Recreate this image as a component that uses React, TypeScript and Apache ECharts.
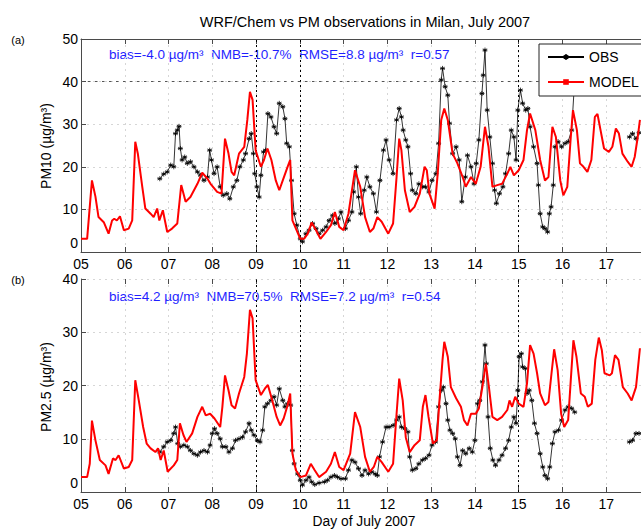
import React, { useEffect, useRef } from "react";
import * as echarts from "echarts";

// ---------- data ----------
const DAY_LABELS = ["05", "06", "07", "08", "09", "10", "11", "12", "13", "14", "15", "16", "17"];
const EVENT_DAYS = [9, 10, 15];

const PM10_MODEL_DAYS = [
  5.0, 5.14, 5.25, 5.33, 5.4, 5.52, 5.63, 5.71, 5.76, 5.82, 5.89, 5.98, 6.09, 6.17, 6.24, 6.3, 6.4, 6.47, 6.59, 6.66,
  6.74, 6.79, 6.87, 6.97, 7.08, 7.2, 7.29, 7.39, 7.5, 7.66, 7.77, 7.89, 7.96, 8.11, 8.21, 8.29, 8.37, 8.44, 8.5, 8.61,
  8.73, 8.8, 8.86, 8.92, 8.99, 9.11, 9.18, 9.26, 9.35, 9.45, 9.53, 9.61, 9.72, 9.78, 9.83, 9.91, 10.01, 10.1, 10.18,
  10.27, 10.37, 10.47, 10.6, 10.71, 10.8, 10.9, 11.0, 11.11, 11.26, 11.38, 11.49, 11.6, 11.68, 11.77, 11.87, 12.02,
  12.13, 12.21, 12.27, 12.32, 12.4, 12.51, 12.62, 12.74, 12.85, 12.9, 12.96, 13.08, 13.15, 13.23, 13.3, 13.38, 13.49,
  13.6, 13.72, 13.79, 13.91, 14.02, 14.13, 14.23, 14.31, 14.4, 14.51, 14.62, 14.74, 14.81, 14.89, 15.0, 15.11, 15.19,
  15.26, 15.38, 15.49, 15.6, 15.68, 15.77, 15.85, 15.95, 16.02, 16.11, 16.19, 16.24, 16.33, 16.4, 16.48, 16.57, 16.66,
  16.74, 16.8, 16.87, 16.95, 17.06, 17.14, 17.22, 17.29, 17.37, 17.49, 17.58, 17.65, 17.72, 17.77,
];
const PM10_MODEL = [
  3.1, 3.1, 16.8, 13, 8.2, 7, 4.3, 7.4, 7.8, 7.4, 8.4, 5.1, 5.5, 7.4, 25.9, 23, 15.3, 10.2, 9, 8.2,
  10.2, 7.4, 9.8, 4.7, 5.5, 6.7, 15.7, 11.8, 12.9, 16, 18.6, 17.2, 16, 14.1, 13.7, 26.6, 23.1, 18.8, 18, 23.1,
  24.7, 31, 37.6, 35.7, 23.9, 20, 21.6, 24.3, 21.6, 16.8, 14.5, 16.8, 20, 21.6, 7.4, 5.5, 3.1, 3.1, 4.3,
  6.9, 5.1, 3.1, 4.7, 6.3, 9.4, 5.9, 5.1, 9, 19.2, 15.3, 8.2, 4.7, 5.5, 8.2, 7.1, 4.3,
  6.7, 17.6, 26.6, 23.9, 14.5, 9.4, 10.6, 13.7, 20, 19.2, 13.7, 10.2, 18.4, 31, 33.7, 31, 23.1,
  20.8, 17.6, 15.3, 17.6, 16, 20, 29.4, 24.7, 15.3, 15.7, 16, 18.4, 20, 18, 19.2, 21.6, 28.6,
  32.5, 28.6, 21.6, 16.8, 17.6, 29.4, 27, 16.8, 13.3, 15.3, 27, 33.3, 28.6, 20.8, 20, 18.8, 21.6,
  31.7, 32.4, 28.6, 24.3, 23.5, 24.7, 29, 27.8, 23.1, 21.2, 20, 22.3, 27, 31,
];

const PM10_OBS_DAYS = [
  6.8, 6.89, 6.97, 7.05, 7.12, 7.16, 7.2, 7.24, 7.27, 7.31, 7.37, 7.43, 7.5, 7.58, 7.66, 7.73, 7.81, 7.89, 7.94, 7.98,
  8.04, 8.11, 8.18, 8.25, 8.33, 8.4, 8.48, 8.56, 8.63, 8.71, 8.76, 8.84, 8.89, 8.94, 8.97, 9.02, 9.07, 9.11, 9.17, 9.22,
  9.27, 9.34, 9.41, 9.47, 9.53, 9.61, 9.66, 9.7, 9.76, 9.81, 9.87, 9.93, 10.01, 10.06, 10.14, 10.21, 10.29, 10.37,
  10.44, 10.52, 10.6, 10.67, 10.75, 10.8, 10.88, 10.94, 11.04, 11.11, 11.19, 11.23, 11.29, 11.34, 11.39, 11.47, 11.53,
  11.6, 11.68, 11.75, 11.83, 11.91, 11.97, 12.04, 12.13, 12.21, 12.27, 12.32, 12.36, 12.42, 12.47, 12.53, 12.57, 12.65,
  12.72, 12.8, 12.87, 12.95, 13.02, 13.11, 13.17, 13.23, 13.26, 13.32, 13.38, 13.42, 13.49, 13.57, 13.64, 13.7, 13.78,
  13.83, 13.91, 13.98, 14.03, 14.09, 14.16, 14.19, 14.23, 14.28, 14.34, 14.4, 14.45, 14.49, 14.56, 14.64, 14.7, 14.77,
  14.83, 14.89, 14.94, 14.98, 15.04, 15.09, 15.16, 15.21, 15.26, 15.34, 15.42, 15.45, 15.49, 15.55, 15.6, 15.66, 15.7,
  15.74, 15.79, 15.83, 15.9, 15.98, 16.06, 16.13, 16.21, 16.27, 16.3, 17.53, 17.6, 17.68, 17.75,
];
const PM10_OBS = [
  17.2, 18.3, 18.8, 20.4, 20, 27.8, 28.6, 29.5, 24.3, 21.6, 22.3, 20.8, 21.2, 20, 18.8, 18, 16.8, 17.6, 23.9, 21.6,
  18.4, 20, 15.3, 13.3, 13.7, 12.5, 15.3, 16.8, 20, 21.6, 23.1, 26.6, 27.8, 23.1, 18.4, 15.3, 12.9, 18, 23.5, 23.9,
  32.5, 31.7, 29.4, 27.8, 34.9, 34.1, 31.3, 25.5, 24.7, 16.8, 9, 6.3, 3.1, 2.4, 4.3, 5.1, 6.7, 5.5,
  4.3, 5.1, 5.9, 7.4, 8.6, 6.7, 7.8, 9.4, 5.5, 7.4, 9.4, 14.1, 20, 12.9, 9, 14.5, 17.6,
  15.3, 13.7, 9.4, 16.8, 23.9, 26.3, 21.6, 18.4, 31, 33.7, 31.7, 28.6, 26.3, 24.7, 18.4, 14.5, 13.7,
  16, 15.3, 15.3, 14.1, 16.8, 18.4, 25.5, 40.4, 43.1, 38.8, 36.8, 30.2, 23.1, 24.7, 21.6, 11.8, 17.6,
  22.7, 20, 16, 20.8, 26.3, 37.2, 41.5, 47.4, 33.3, 27, 20.8, 14.5, 11.4, 13.7, 15.3, 18.4, 23.1,
  28.6, 27, 21.6, 33.3, 38, 34.9, 33.3, 33.7, 29.4, 24.7, 20.8, 15.7, 9, 5.9, 5.5, 4.7, 9,
  10.6, 15.7, 24.7, 25.9, 24.7, 25.5, 25.9, 28.6, 38.8, null, 27, 27.8, 26.6, 28,
];

const PM25_MODEL_DAYS = [
  5.0, 5.14, 5.2, 5.25, 5.33, 5.43, 5.56, 5.63, 5.73, 5.79, 5.86, 5.98, 6.09, 6.17, 6.24, 6.32, 6.42, 6.5, 6.59, 6.7,
  6.76, 6.82, 6.89, 6.98, 7.12, 7.2, 7.26, 7.34, 7.41, 7.54, 7.66, 7.77, 7.85, 7.95, 8.05, 8.18, 8.23, 8.29, 8.37, 8.44,
  8.52, 8.61, 8.73, 8.79, 8.86, 8.92, 8.99, 9.11, 9.2, 9.27, 9.37, 9.47, 9.55, 9.63, 9.72, 9.78, 9.83, 9.91, 10.01,
  10.14, 10.25, 10.34, 10.44, 10.6, 10.71, 10.8, 10.9, 11.0, 11.15, 11.26, 11.38, 11.49, 11.6, 11.69, 11.77, 11.87,
  12.02, 12.13, 12.21, 12.27, 12.35, 12.42, 12.51, 12.62, 12.74, 12.81, 12.87, 12.94, 13.04, 13.13, 13.19, 13.26, 13.3,
  13.38, 13.45, 13.57, 13.68, 13.75, 13.83, 13.91, 14.02, 14.09, 14.17, 14.25, 14.32, 14.4, 14.51, 14.62, 14.74, 14.79,
  14.85, 14.92, 15.0, 15.11, 15.19, 15.26, 15.34, 15.42, 15.49, 15.6, 15.68, 15.75, 15.81, 15.89, 15.97, 16.04, 16.13,
  16.19, 16.25, 16.32, 16.42, 16.51, 16.58, 16.67, 16.75, 16.83, 16.9, 16.96, 17.08, 17.13, 17.2, 17.28, 17.38, 17.49,
  17.58, 17.68, 17.72, 17.77,
];
const PM25_MODEL = [
  2.8, 2.8, 5.3, 13.4, 9.7, 6, 5, 3.4, 6.3, 6, 6.9, 4.4, 4.7, 6, 21, 17.2, 12.2, 9.1, 8.2, 7.5,
  8.2, 6, 7.8, 3.8, 5, 6, 12.9, 10.7, 9.4, 11, 14.1, 16, 14.4, 14.7, 13.8, 12.2, 16, 21.9, 19.1, 16.3,
  15.7, 18.5, 21.6, 26, 34.2, 32.6, 21, 18.2, 19.4, 20.1, 17.2, 14.1, 12.5, 13.8, 16.3, 18.5, 7.2, 4.1, 2.8,
  3.1, 5.3, 4.1, 2.8, 3.8, 5.3, 7.5, 4.7, 4.1, 7.2, 15, 12.2, 6.6, 3.8, 4.7, 6.6, 5.6,
  3.8, 5.3, 14.7, 21.3, 17.2, 10.3, 7.5, 8.8, 9.7, 16, 18.2, 14.1, 9.1, 9.7, 17.2, 24.8, 28.2,
  25.4, 19.7, 17.6, 16, 13.5, 12.5, 14.7, 14.7, 15.7, 19.7, 24.1, 19.7, 14.1, 13.5, 14.1, 15.4, 17.2,
  16, 17.9, 16.6, 16, 20.4, 27.6, 26, 22.3, 18.5, 16.3, 16.9, 22.3, 26.8, 22.9, 14.7, 12.2, 13.5,
  21, 28.5, 25.4, 18.5, 17.9, 16, 16.6, 24.8, 29, 26.6, 22.3, 21.9, 22.3, 25.7, 24.8, 19.7, 18.5,
  17.2, 19.7, 22.9, 27,
];

const PM25_OBS_DAYS = [
  6.8, 6.89, 6.97, 7.05, 7.12, 7.16, 7.21, 7.27, 7.35, 7.43, 7.5, 7.58, 7.66, 7.73, 7.81, 7.89, 7.95, 8.0, 8.05, 8.11,
  8.18, 8.23, 8.31, 8.38, 8.46, 8.53, 8.61, 8.69, 8.76, 8.84, 8.89, 8.95, 9.03, 9.09, 9.15, 9.2, 9.26, 9.34, 9.41, 9.47,
  9.53, 9.61, 9.66, 9.72, 9.79, 9.83, 9.87, 9.95, 10.01, 10.06, 10.14, 10.21, 10.27, 10.34, 10.44, 10.56, 10.63, 10.71,
  10.79, 10.86, 10.94, 11.04, 11.11, 11.19, 11.26, 11.34, 11.42, 11.49, 11.57, 11.64, 11.72, 11.77, 11.82, 11.89, 11.97,
  12.04, 12.13, 12.21, 12.27, 12.32, 12.4, 12.47, 12.51, 12.57, 12.65, 12.72, 12.8, 12.87, 12.95, 13.02, 13.1, 13.17,
  13.23, 13.28, 13.34, 13.38, 13.43, 13.49, 13.55, 13.6, 13.66, 13.72, 13.79, 13.87, 13.94, 14.0, 14.06, 14.11, 14.17,
  14.23, 14.26, 14.3, 14.35, 14.41, 14.47, 14.55, 14.62, 14.7, 14.77, 14.83, 14.89, 14.94, 14.98, 15.01, 15.06, 15.09,
  15.15, 15.19, 15.24, 15.3, 15.36, 15.42, 15.49, 15.55, 15.6, 15.66, 15.71, 15.77, 15.83, 15.91, 15.98, 16.06, 16.13,
  16.21, 16.28, 16.3, 17.53, 17.6, 17.68, 17.75,
];
const PM25_OBS = [
  7.5, 8.5, 9.4, 9.7, 11, 12.2, 9.1, 8.5, 8.8, 8.5, 7.8, 7.2, 6.9, 7.5, 7.8, 7.5, 8.8, 11, 11.9, 11,
  10, 8.5, 8.5, 7.5, 8.2, 9.7, 10, 10.3, 11.3, 12.9, 11.6, 10.7, 9.7, 9.4, 11.6, 16, 16.6, 17.2, 17.9, 16.3,
  19.4, 17.2, 16, 16.6, 16.3, 7.8, 5.3, 3.4, 2.2, 1.3, 2.2, 2.8, 1.9, 1.4, 1.7, 1.9, 2.2, 2.8,
  3.1, 2.8, 2.5, 2.5, 4.1, 6, 5.6, 4.4, 3.1, 4.1, 3.4, 3.8, 3.4, 3.1, 6.6, 9.4, 12.2,
  12.2, 12.5, 13.5, 14.1, 12.2, 11.9, 11.3, 6.6, 4.1, 4.4, 5.3, 6, 6.3, 6.9, 8.8, 9.4, 16,
  19.1, 19.7, 16.6, 13.5, 11.6, 11, 10, 6.6, 5, 7.8, 7.2, 8.2, 7.5, 9.7, 16.6, 17.2, 20.7,
  27.6, 24.1, 14.1, 8.2, 6, 5, 6, 6.9, 8.2, 9.7, 12.2, 14.1, 12.9, 19.1, 25.4, 26, 23.5,
  23.2, 18.5, 19.1, 17.2, 12.9, 11, 7.2, 4.7, 3.1, 2.5, 4.7, 9.1, 11.3, 11.6, 13.5, 15.4, 16,
  15.7, 15, null, 9.4, 9.7, 11, 11,
];

const STATS_PM10 = "bias=-4.0 \u00b5g/m\u00b3  NMB=-10.7%  RMSE=8.8 \u00b5g/m\u00b3  r=0.57";
const STATS_PM25 = "bias=4.2 \u00b5g/m\u00b3  NMB=70.5%  RMSE=7.2 \u00b5g/m\u00b3  r=0.54";

// ---------- styling ----------
const FONT = "'Liberation Sans', Arial, Helvetica, sans-serif";
const AXIS_COLOR = "#4a4a4a";
const FAINT = "#d6d6d6";
const STAR = "path://M5,0L5,10M0.67,2.5L9.33,7.5M0.67,7.5L9.33,2.5M0,5L10,5";
const BAR = "path://M0,0L10,0L10,2L0,2Z";
const TICK_FONT = 14;

const zip = (xs: number[], ys: (number | null)[]) => xs.map((x, i) => [x, ys[i]]);

function bottomXAxis(gridIndex: number) {
  return {
    type: "value",
    gridIndex,
    position: "bottom",
    min: 5,
    max: 18,
    interval: 1,
    axisLine: { show: true, onZero: false, lineStyle: { color: AXIS_COLOR, width: 1 } },
    axisTick: { show: true, inside: true, length: 5, lineStyle: { color: AXIS_COLOR } },
    axisLabel: {
      margin: 5,
      color: "#000",
      fontSize: TICK_FONT,
      fontFamily: FONT,
      formatter: (v: number) => DAY_LABELS[Math.round(v) - 5] ?? "",
    },
    splitLine: { show: true, lineStyle: { color: FAINT, type: [2, 4], width: 1 } },
  };
}

function topXAxis(gridIndex: number, showLine: boolean) {
  return {
    type: "value",
    gridIndex,
    position: "top",
    min: 5,
    max: 18,
    interval: 1,
    axisLine: { show: showLine, onZero: false, lineStyle: { color: AXIS_COLOR, width: 1 } },
    axisTick: { show: true, inside: true, length: 5, lineStyle: { color: AXIS_COLOR } },
    axisLabel: { show: false },
    splitLine: { show: false },
  };
}

function yAxis(gridIndex: number, max: number) {
  return {
    type: "value",
    gridIndex,
    min: 0,
    max,
    interval: 10,
    axisLine: { show: true, onZero: false, lineStyle: { color: AXIS_COLOR, width: 1 } },
    axisTick: { show: true, inside: true, length: 5, lineStyle: { color: AXIS_COLOR } },
    axisLabel: {
      margin: 3,
      color: "#000",
      fontSize: TICK_FONT,
      fontFamily: FONT,
      formatter: (v: number) => (v === 0 ? "{z|0}" : String(v)),
      rich: { z: { fontSize: TICK_FONT, fontFamily: FONT, color: "#000", padding: [0, 0, 18, 0] } },
    },
    splitLine: { show: true, lineStyle: { color: FAINT, type: [2, 4], width: 1 } },
  };
}

function markLines(withForty: boolean) {
  const data: any[] = EVENT_DAYS.map((d) => ({ xAxis: d }));
  if (withForty) {
    data.push({ yAxis: 40, lineStyle: { color: "#555", type: [2.5, 4.5], width: 1 } });
  }
  return {
    silent: true,
    symbol: "none",
    z: 2,
    label: { show: false },
    lineStyle: { color: "#000", type: [2, 3], width: 1 },
    data,
  };
}

function obsSeries(xIdx: number, yIdx: number, data: any[]) {
  return {
    name: "OBS",
    type: "line",
    xAxisIndex: xIdx,
    yAxisIndex: yIdx,
    data,
    symbol: STAR,
    symbolSize: 5,
    connectNulls: false,
    lineStyle: { color: "#000", width: 0.8 },
    itemStyle: { color: "#000", borderColor: "#000", borderWidth: 0.8 },
    z: 2,
  };
}

function modelSeries(xIdx: number, yIdx: number, data: any[], withForty: boolean) {
  return {
    name: "MODEL",
    type: "line",
    xAxisIndex: xIdx,
    yAxisIndex: yIdx,
    data,
    symbol: BAR,
    symbolKeepAspect: true,
    showSymbol: false,
    lineStyle: { color: "#ff0000", width: 2 },
    itemStyle: { color: "#ff0000" },
    markLine: markLines(withForty),
    z: 3,
  };
}

export default function App() {
  const ref = useRef<HTMLDivElement>(null);

  useEffect(() => {
    document.body.style.margin = "0";
    const chart = echarts.init(ref.current!, null, { renderer: "svg" });
    const textStyle = (text: string, size = 13, color = "#000") => ({
      text,
      fontSize: size,
      fontFamily: FONT,
      fill: color,
    });

    chart.setOption({
      animation: false,
      backgroundColor: "#fff",
      grid: [
        { left: 81, top: 39, width: 569, height: 213, containLabel: false, outerBoundsMode: "none" },
        { left: 81, top: 279, width: 569, height: 213, containLabel: false, outerBoundsMode: "none" },
      ],
      xAxis: [bottomXAxis(0), topXAxis(0, true), bottomXAxis(1), topXAxis(1, false)],
      yAxis: [yAxis(0, 50), yAxis(1, 40)],
      legend: {
        data: ["OBS", "MODEL"],
        orient: "vertical",
        left: 539,
        top: 44,
        z: 20,
        padding: [6, 14, 7, 8],
        itemWidth: 36,
        itemHeight: 7,
        itemGap: 11,
        backgroundColor: "#fff",
        borderColor: "#222",
        borderWidth: 1,
        borderRadius: 0,
        selectedMode: false,
        textStyle: { fontSize: 14, color: "#000", fontFamily: FONT },
      },
      graphic: [
        {
          type: "text",
          x: 365,
          y: 22,
          style: { ...textStyle("WRF/Chem vs PM observations in Milan, July 2007", 14.5), align: "center", verticalAlign: "middle" },
        },
        { type: "text", x: 18, y: 40, style: { ...textStyle("(a)", 11), align: "center", verticalAlign: "middle" } },
        { type: "text", x: 18, y: 280, style: { ...textStyle("(b)", 11), align: "center", verticalAlign: "middle" } },
        {
          type: "text",
          x: 109,
          y: 54,
          style: { ...textStyle(STATS_PM10, 13.5, "#1f1fff"), align: "left", verticalAlign: "middle" },
        },
        {
          type: "text",
          x: 109,
          y: 296,
          style: { ...textStyle(STATS_PM25, 13.5, "#1f1fff"), align: "left", verticalAlign: "middle" },
        },
        {
          type: "text",
          x: 46,
          y: 146,
          rotation: Math.PI / 2,
          style: { ...textStyle("PM10 (\u00b5g/m\u00b3)", 14), align: "center", verticalAlign: "middle" },
        },
        {
          type: "text",
          x: 46,
          y: 387,
          rotation: Math.PI / 2,
          style: { ...textStyle("PM2.5 (\u00b5g/m\u00b3)", 14), align: "center", verticalAlign: "middle" },
        },
        {
          type: "text",
          x: 364,
          y: 521,
          style: { ...textStyle("Day of July 2007", 13.8), align: "center", verticalAlign: "middle" },
        },
      ],
      series: [
        obsSeries(0, 0, zip(PM10_OBS_DAYS, PM10_OBS)),
        modelSeries(0, 0, zip(PM10_MODEL_DAYS, PM10_MODEL), true),
        obsSeries(2, 1, zip(PM25_OBS_DAYS, PM25_OBS)),
        modelSeries(2, 1, zip(PM25_MODEL_DAYS, PM25_MODEL), false),
      ],
    });

    return () => chart.dispose();
  }, []);

  return <div ref={ref} style={{ width: 641, height: 530 }} />;
}
